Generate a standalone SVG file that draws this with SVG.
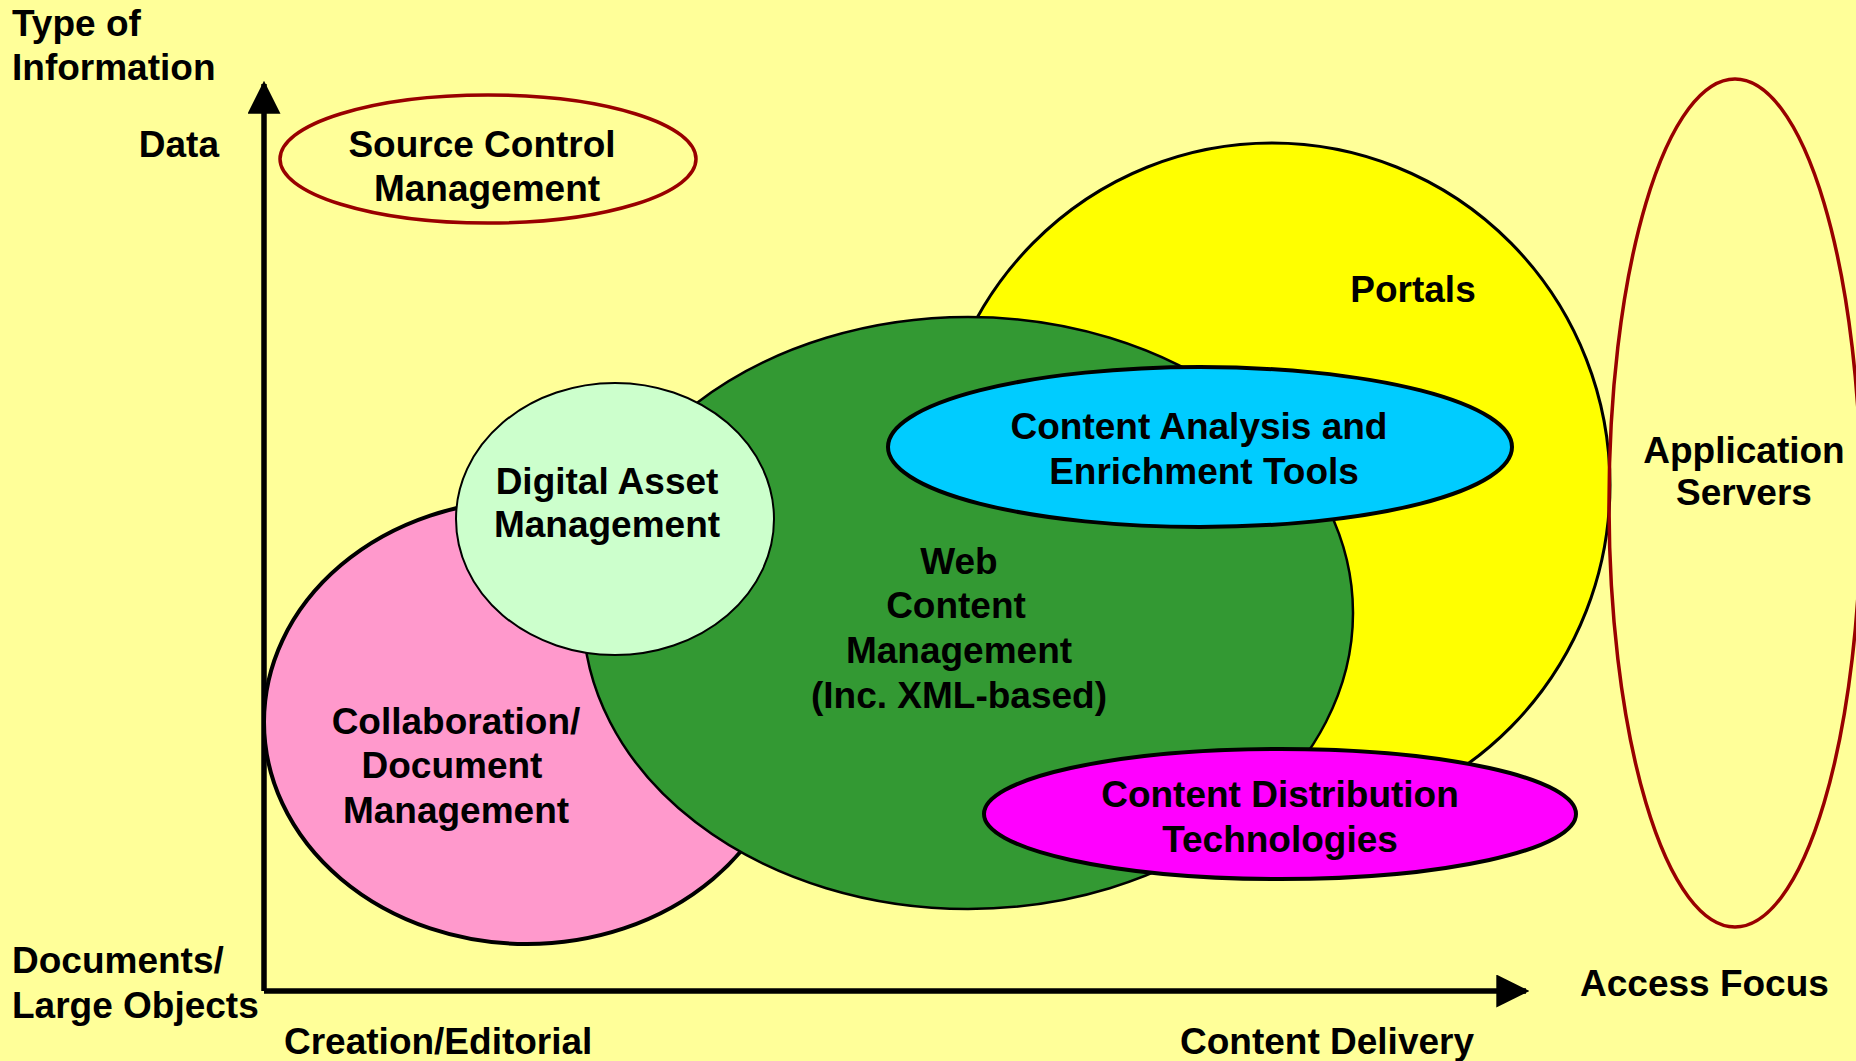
<svg xmlns="http://www.w3.org/2000/svg" width="1856" height="1061" viewBox="0 0 1856 1061">
  <style>
    .t { font-family: "Liberation Sans", Arial, sans-serif; font-weight: bold; font-size: 37px; fill: #000; }
    .c { text-anchor: middle; }
    .r { text-anchor: end; }
    .blob { stroke: #000; }
    .outline { fill: none; stroke: #990000; stroke-width: 3.5; }
    .axis { stroke: #000; stroke-width: 5.5; fill: none; }
  </style>
  <defs>
    <marker id="arrow" viewBox="0 0 10 10" refX="9" refY="5" markerWidth="6" markerHeight="6" markerUnits="strokeWidth" orient="auto">
      <path d="M0,0 L10,5 L0,10 z" fill="#000"/>
    </marker>
  </defs>

  <!-- background -->
  <rect x="0" y="0" width="1856" height="1061" fill="#FFFF99"/>

  <!-- axes -->
  <g id="connectors">
    <path class="axis" d="M264,991 L264,84" marker-end="url(#arrow)"/>
    <path class="axis" d="M264,991 L1526,991" marker-end="url(#arrow)"/>
  </g>

  <!-- axis labels -->
  <g id="axis-labels">
    <text class="t" x="12" y="36">Type of</text>
    <text class="t" x="12" y="80">Information</text>
    <text class="t r" x="219" y="157">Data</text>
    <text class="t" x="12" y="973">Documents/</text>
    <text class="t" x="12" y="1018">Large Objects</text>
    <text class="t" x="284" y="1054">Creation/Editorial</text>
    <text class="t" x="1180" y="1054">Content Delivery</text>
    <text class="t" x="1580" y="996">Access Focus</text>
  </g>

  <g id="portals">
    <ellipse class="blob" cx="1272" cy="485" rx="338" ry="342" fill="#FFFF00" stroke-width="3"/>
    <text class="t c" x="1413" y="302">Portals</text>
  </g>

  <g id="collaboration">
    <ellipse class="blob" cx="527" cy="722" rx="263" ry="222" fill="#FF99CC" stroke-width="4"/>
  </g>

  <g id="web-content">
    <ellipse class="blob" cx="968" cy="613" rx="385" ry="296" fill="#339933" stroke-width="2.5"/>
    <text class="t c" x="959" y="574">Web</text>
    <text class="t c" x="956" y="618">Content</text>
    <text class="t c" x="959" y="663">Management</text>
    <text class="t c" x="959" y="708">(Inc. XML-based)</text>
  </g>

  <g id="collaboration-label">
    <text class="t c" x="456" y="734">Collaboration/</text>
    <text class="t c" x="452" y="778">Document</text>
    <text class="t c" x="456" y="823">Management</text>
  </g>

  <g id="digital-asset">
    <ellipse class="blob" cx="615" cy="519" rx="159" ry="136" fill="#CCFFCC" stroke-width="2"/>
    <text class="t c" x="607" y="494">Digital Asset</text>
    <text class="t c" x="607" y="537">Management</text>
  </g>

  <g id="content-analysis">
    <ellipse class="blob" cx="1200" cy="447" rx="312" ry="80" fill="#00CCFF" stroke-width="4"/>
    <text class="t c" x="1199" y="439">Content Analysis and</text>
    <text class="t c" x="1204" y="484">Enrichment Tools</text>
  </g>

  <g id="content-distribution">
    <ellipse class="blob" cx="1280" cy="814" rx="296" ry="65" fill="#FF00FF" stroke-width="4"/>
    <text class="t c" x="1280" y="807">Content Distribution</text>
    <text class="t c" x="1280" y="852">Technologies</text>
  </g>

  <g id="source-control">
    <ellipse class="outline" cx="488" cy="159" rx="208" ry="64"/>
    <text class="t c" x="482" y="157">Source Control</text>
    <text class="t c" x="487" y="201">Management</text>
  </g>

  <g id="application-servers">
    <ellipse class="outline" cx="1735" cy="503" rx="126" ry="424"/>
    <text class="t c" x="1744" y="463">Application</text>
    <text class="t c" x="1744" y="505">Servers</text>
  </g>
</svg>
